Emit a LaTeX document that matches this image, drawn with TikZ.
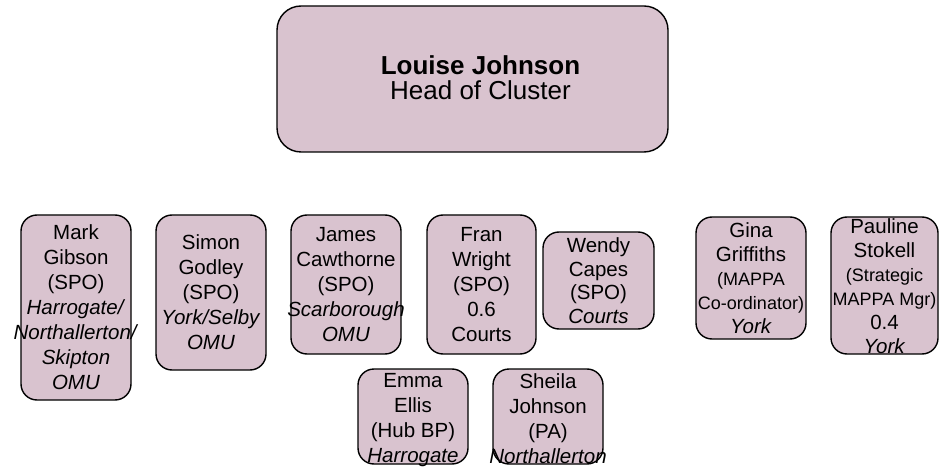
\documentclass[tikz,border=0pt]{standalone}
\usepackage{fontspec}
\setmainfont{Liberation Sans}
\usetikzlibrary{positioning}
\definecolor{boxpink}{RGB}{217,195,207}
\newcommand{\smallfont}{\fontsize{18}{24}\selectfont}

\begin{document}
\begin{tikzpicture}[
    x=1pt, y=-1pt,
    staffbox/.style={draw=black, line width=1.4pt, fill=boxpink, rounded corners=16pt, inner sep=0pt},
    stafftext/.style={align=center, inner sep=0pt, font=\fontsize{20.5}{25}\selectfont}
]
\useasboundingbox[fill=white] (0,0) rectangle (939,470);

% === Head of cluster ===
\node[staffbox, rounded corners=24pt, minimum width=391pt, minimum height=146pt] (head) at (472.5,79) {};
\node[stafftext, font=\fontsize{26}{25}\selectfont] (headtext) at ([xshift=8pt,yshift=1pt]head.center) {\textbf{Louise Johnson}\\Head of Cluster};

% === Top row ===
\node[staffbox, minimum width=110pt, minimum height=185pt] (mark) at (76,307.5) {};
\node[stafftext] (marktext) at (mark.center) {Mark\\Gibson\\(SPO)\\\textit{Harrogate/}\\\textit{Northallerton/}\\\textit{Skipton}\\\textit{OMU}};

\node[staffbox, minimum width=110pt, minimum height=155pt] (simon) at (211,292.5) {};
\node[stafftext] (simontext) at (simon.center) {Simon\\Godley\\(SPO)\\\textit{York/Selby}\\\textit{OMU}};

\node[staffbox, minimum width=110pt, minimum height=139pt] (james) at (346,284.5) {};
\node[stafftext] (jamestext) at (james.center) {James\\Cawthorne\\(SPO)\\\textit{Scarborough}\\\textit{OMU}};

\node[staffbox, minimum width=109pt, minimum height=139pt] (fran) at (481.5,284.5) {};
\node[stafftext] (frantext) at (fran.center) {Fran\\Wright\\(SPO)\\0.6\\Courts};

\node[staffbox, minimum width=111pt, minimum height=97pt] (wendy) at (598.5,280.5) {};
\node[stafftext, font=\fontsize{20.5}{23.5}\selectfont] (wendytext) at (wendy.center) {Wendy\\Capes\\(SPO)\\\textit{Courts}};

\node[staffbox, minimum width=110pt, minimum height=122pt] (gina) at (751,278) {};
\node[stafftext, font=\fontsize{20.5}{24}\selectfont] (ginatext) at (gina.center) {Gina\\Griffiths\\{\smallfont (MAPPA}\\{\smallfont Co-ordinator)}\\\textit{York}};

\node[staffbox, minimum width=107pt, minimum height=137pt] (pauline) at (884.5,285.5) {};
\node[stafftext, font=\fontsize{20.5}{24}\selectfont] (paulinetext) at ([yshift=-1pt]pauline.center) {Pauline\\Stokell\\{\smallfont (Strategic}\\{\smallfont MAPPA Mgr)}\\0.4\\\textit{York}};

% === Bottom row ===
\node[staffbox, minimum width=110pt, minimum height=95pt] (emma) at (413,416.5) {};
\node[stafftext] (emmatext) at ([yshift=-4pt]emma.center) {Emma\\Ellis\\(Hub BP)\\\textit{Harrogate}};

\node[staffbox, minimum width=110pt, minimum height=95pt] (sheila) at (548,416.5) {};
\node[stafftext] (sheilatext) at ([yshift=-2pt]sheila.center) {Sheila\\Johnson\\(PA)\\\textit{Northallerton}};

\end{tikzpicture}
\end{document}
